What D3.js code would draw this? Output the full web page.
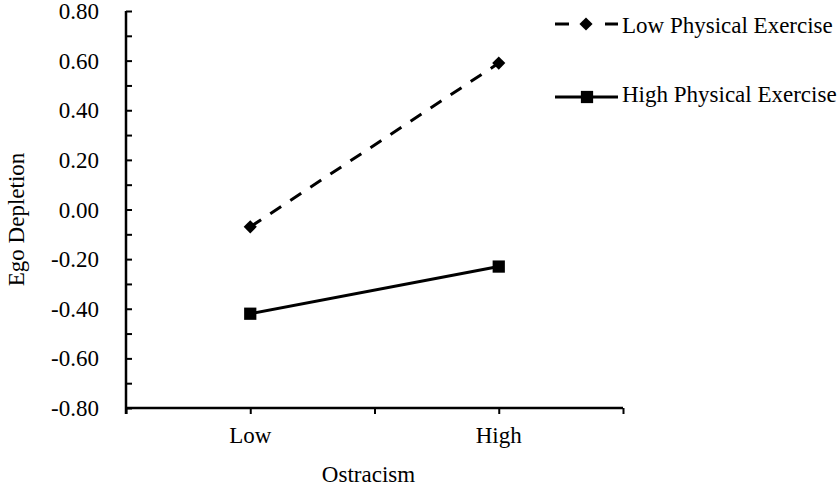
<!DOCTYPE html>
<html>
<head>
<meta charset="utf-8">
<script src="https://cdn.jsdelivr.net/npm/d3@7"></script>
<style>
  body{margin:0;background:#fff;}
  text{font-family:"Liberation Serif","Times New Roman",serif;fill:#000;}
</style>
</head>
<body>
<svg></svg>
<script>
// chart data
var categories = ["Low","High"];
var catPos = [1,3];
var lowPE = [-0.07,0.59];
var highPE = [-0.42,-0.23];
var seriesNames = ["Low Physical Exercise","High Physical Exercise"];
var yTicks = [-0.8,-0.6,-0.4,-0.2,0,0.2,0.4,0.6,0.8];

function go(){
  var width=839, height=488;
  var margin={top:11,bot:80,left:126,right:216};
  var fs="23px";
  var svg=d3.select("svg").attr("width",width).attr("height",height);

  var xScale=d3.scaleLinear()
               .domain([0,4])
               .range([margin.left,width-margin.right]);
  var yScale=d3.scaleLinear()
               .domain([-0.8,0.8])
               .range([height-margin.bot,margin.top]);

  // y axis: minor ticks inside, labels left
  var yAxis=d3.axisRight(yScale)
              .tickValues(d3.range(-8,9).map(function(d){return d/10;}))
              .tickSize(6)
              .tickFormat("");
  var gy=svg.append("g")
     .attr("transform","translate("+margin.left+",0)")
     .call(yAxis);
  gy.select(".domain").attr("d","M"+0+","+(yScale(-0.8)+6)+"V"+yScale(0.8)).attr("stroke-width",2.5);
  gy.selectAll(".tick line").attr("stroke-width",2);

  svg.append("g").selectAll("text")
     .data(yTicks).enter()
     .append("text")
     .attr("x",margin.left-27)
     .attr("y",function(d){return yScale(d);})
     .attr("dy","0.35em")
     .attr("text-anchor","end")
     .style("font-size",fs)
     .text(function(d){return d3.format(".2f")(d).replace("\u2212","-");});

  // x axis
  var xAxis=d3.axisBottom(xScale)
              .tickValues([0,1,2,3,4])
              .tickSize(6)
              .tickFormat("");
  var gx=svg.append("g")
     .attr("transform","translate(0,"+yScale(-0.8)+")")
     .call(xAxis);
  gx.select(".domain").attr("d","M"+xScale(0)+",0H"+xScale(4)).attr("stroke-width",2.5);
  gx.selectAll(".tick line").attr("stroke-width",2);

  svg.append("g").selectAll("text")
     .data(categories).enter()
     .append("text")
     .attr("x",function(d,i){return xScale(catPos[i]);})
     .attr("y",yScale(-0.8)+35)
     .attr("text-anchor","middle")
     .style("font-size",fs)
     .text(function(d){return d;});

  svg.append("text")
     .attr("x",xScale(2)-6)
     .attr("y",height-6)
     .attr("text-anchor","middle")
     .style("font-size",fs)
     .text("Ostracism");

  svg.append("text")
     .attr("transform","translate(24,"+yScale(-0.04)+") rotate(-90)")
     .attr("text-anchor","middle")
     .style("font-size",fs)
     .text("Ego Depletion");

  var lineMaker=d3.line()
                  .x(function(d){return xScale(d.x);})
                  .y(function(d){return yScale(d.y);});

  var lowPts=lowPE.map(function(v,i){return {x:catPos[i],y:v};});
  var highPts=highPE.map(function(v,i){return {x:catPos[i],y:v};});

  svg.append("path")
     .attr("d",lineMaker(lowPts))
     .attr("stroke","#000")
     .attr("stroke-width",3)
     .attr("stroke-dasharray","13,11")
     .attr("fill","none");
  svg.append("path")
     .attr("d",lineMaker(highPts))
     .attr("stroke","#000")
     .attr("stroke-width",3)
     .attr("fill","none");

  var diamond=d3.symbol().type(d3.symbolDiamond2).size(110);
  var square=d3.symbol().type(d3.symbolSquare).size(150);

  svg.append("g").selectAll("path")
     .data(lowPts).enter()
     .append("path")
     .attr("d",diamond)
     .attr("transform",function(d){return "translate("+xScale(d.x)+","+yScale(d.y)+")";});
  svg.append("g").selectAll("path")
     .data(highPts).enter()
     .append("path")
     .attr("d",square)
     .attr("transform",function(d){return "translate("+xScale(d.x)+","+yScale(d.y)+")";});

  // legend
  var legend=svg.append("g");
  var legY=[24,97];
  legend.append("path")
        .attr("d","M555,"+legY[0]+"H618")
        .attr("stroke","#000").attr("stroke-width",3)
        .attr("stroke-dasharray","14,36");
  legend.append("path").attr("d",diamond).attr("transform","translate(586,"+legY[0]+")");
  legend.append("path")
        .attr("d","M555,"+legY[1]+"H618")
        .attr("stroke","#000").attr("stroke-width",3);
  legend.append("path").attr("d",square).attr("transform","translate(587,"+legY[1]+")");
  legend.selectAll("text")
        .data(seriesNames).enter()
        .append("text")
        .attr("x",622)
        .attr("y",function(d,i){return legY[i]+(i?5:9);})
        .style("font-size",fs)
        .text(function(d){return d;});
}
go();
</script>
</body>
</html>
